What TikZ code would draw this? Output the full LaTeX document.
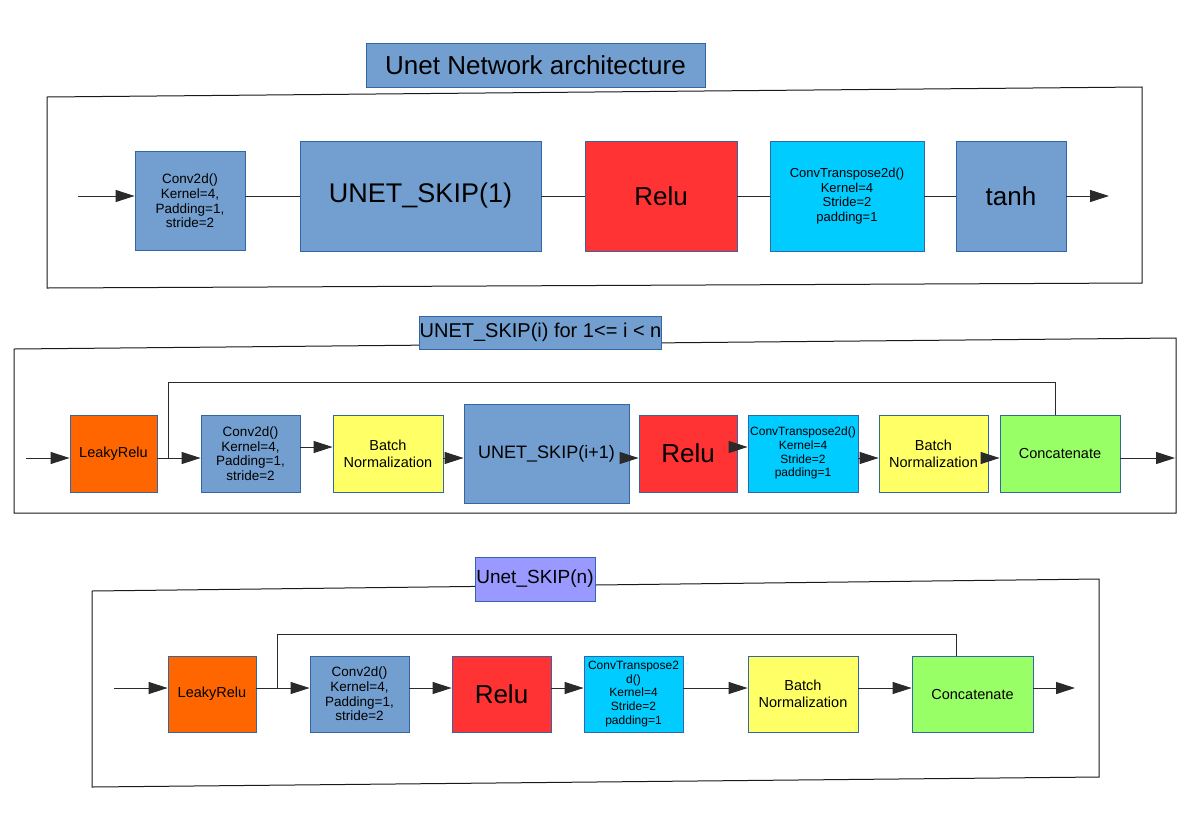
\documentclass[tikz,border=0pt]{standalone}
\usepackage{fontspec}
\setmainfont{Liberation Sans}
\usetikzlibrary{arrows.meta,calc}
\definecolor{lblue}{HTML}{729FCF}
\definecolor{bordc}{HTML}{3465A4}
\definecolor{lred}{HTML}{FF3333}
\definecolor{lcyan}{HTML}{00CCFF}
\definecolor{lorange}{HTML}{FF6600}
\definecolor{lyellow}{HTML}{FFFF66}
\definecolor{lgreen}{HTML}{99FF66}
\definecolor{lpurple}{HTML}{9999FF}
\definecolor{linec}{HTML}{2A2A2A}
\definecolor{framec}{HTML}{1A1A1A}
\begin{document}
\begin{tikzpicture}[x=1pt,y=-1pt,
  box/.style={draw=bordc, line width=0.8pt, inner sep=0pt, align=center, text=black},
  conn/.style={draw=linec, line width=1pt},
  arr/.style={conn, -{Triangle[length=19pt,width=12pt]}},
  framebox/.style={draw=framec, line width=1pt},
  fbig/.style={font=\fontsize{26}{30}\selectfont},
  fmid/.style={font=\fontsize{18}{22}\selectfont},
  fsmall/.style={font=\fontsize{13.5}{14.6}\selectfont},
  fsm/.style={font=\fontsize{14.5}{17}\selectfont},
  ftiny/.style={font=\fontsize{12}{13.8}\selectfont}]
\useasboundingbox[fill=white] (0,0) rectangle (1180,828);

% ---------- frames ----------
\draw[framebox] (47,97) -- (1142,87) -- (1142,283) -- (47,288) -- cycle;
\draw[framebox] (14,349) -- (1176,338) -- (1176,513) -- (14,513) -- cycle;
\draw[framebox] (92,591) -- (1099,579) -- (1099,777) -- (92,787) -- cycle;

% ---------- titles ----------
\node[box, fill=lblue, minimum width=339, minimum height=44, fbig] (t1) at (535.5,65) {Unet Network architecture};
\node[box, fill=lblue, minimum width=241, minimum height=33, font=\fontsize{20}{24}\selectfont] (t2) at (540.5,332.5) {UNET\_SKIP(i) for 1<= i < n};
\node[box, fill=lpurple, minimum width=120, minimum height=44, font=\fontsize{19}{23}\selectfont] (t3) at (535,579) {Unet\_SKIP(n)};

% ---------- row 1 ----------
\node[box, fill=lblue, minimum width=110, minimum height=99, fsmall] (conv1) at (190,201) {Conv2d()\\Kernel=4,\\Padding=1,\\stride=2};
\node[box, fill=lblue, minimum width=241, minimum height=110, font=\fontsize{27}{31}\selectfont] (skip1) at (420.5,196) {UNET\_SKIP(1)};
\node[box, fill=lred, minimum width=152, minimum height=110, fbig] (relu1) at (661,196) {Relu};
\node[box, fill=lcyan, minimum width=154, minimum height=110, font=\fontsize{13}{14.7}\selectfont] (ct1) at (847,196) {ConvTranspose2d()\\Kernel=4\\Stride=2\\padding=1};
\node[box, fill=lblue, minimum width=110, minimum height=110, fbig] (tanh1) at (1011,196) {tanh};
\coordinate (in1) at (78,196);
\coordinate (out1) at (1109,196);
\draw[arr] (in1) -- (in1 -| conv1.west);
\draw[conn] (conv1.east |- skip1.west) -- (skip1.west);
\draw[conn] (skip1.east) -- (relu1.west);
\draw[conn] (relu1.east) -- (ct1.west);
\draw[conn] (ct1.east) -- (tanh1.west);
\draw[arr] (tanh1.east) -- (out1);

% ---------- row 2 ----------
\node[box, fill=lorange, minimum width=87, minimum height=77, fsm] (leaky2) at (113.5,453.5) {LeakyRelu};
\node[box, fill=lblue, minimum width=99, minimum height=77, fsmall] (conv2) at (250.5,453.5) {Conv2d()\\Kernel=4,\\Padding=1,\\stride=2};
\node[box, fill=lyellow, minimum width=110, minimum height=77, fsm] (bn2) at (388,453.5) {Batch\\Normalization};
\node[box, fill=lblue, minimum width=165, minimum height=99, fmid] (skip2) at (546.5,453.5) {UNET\_SKIP(i+1)};
\node[box, fill=lred, minimum width=98, minimum height=77, fbig] (relu2) at (688,453.5) {Relu};
\node[box, fill=lcyan, minimum width=110, minimum height=77, ftiny] (ct2) at (803,453.5) {\raisebox{5pt}{\begin{tabular}{@{}c@{}}ConvTranspose2d()\\Kernel=4\\Stride=2\\padding=1\end{tabular}}};
\node[box, fill=lyellow, minimum width=109, minimum height=77, fsm] (bn2b) at (933.5,453.5) {Batch\\Normalization};
\node[box, fill=lgreen, minimum width=120, minimum height=77, fsm] (cat2) at (1060,453.5) {Concatenate};
\coordinate (in2) at (26,458);
\coordinate (out2) at (1175,458);
\coordinate (sk2) at (168,458);
\coordinate (skt2) at (1055,382);
\draw[arr] (in2) -- (in2 -| leaky2.west);
\draw[arr] (leaky2.east |- in2) -- (conv2.west |- in2);
\draw[arr] ($(conv2.east)+(0,-6.5)$) -- ($(bn2.west)+(0,-6.5)$);
\draw[arr] (bn2.east |- in2) -- (skip2.west |- in2);
\draw[arr] (skip2.east |- in2) -- (relu2.west |- in2);
\draw[arr] ($(relu2.east)+(0,-6.5)$) -- ($(ct2.west)+(0,-6.5)$);
\draw[arr] (ct2.east |- in2) -- (bn2b.west |- in2);
\draw[arr] (bn2b.east |- in2) -- (cat2.west |- in2);
\draw[arr] (cat2.east |- in2) -- (out2);
\draw[conn] (sk2) |- (skt2) -- (skt2 |- cat2.north);

% ---------- row 3 ----------
\node[box, fill=lorange, minimum width=88, minimum height=76, fsm] (leaky3) at (212,694) {LeakyRelu};
\node[box, fill=lblue, minimum width=99, minimum height=76, fsmall] (conv3) at (359.5,694) {Conv2d()\\Kernel=4,\\Padding=1,\\stride=2};
\node[box, fill=lred, minimum width=99, minimum height=76, fbig] (relu3) at (501.5,694) {Relu};
\node[box, fill=lcyan, minimum width=99, minimum height=76, ftiny] (ct3) at (633.5,694) {ConvTranspose2\\d()\\Kernel=4\\Stride=2\\padding=1};
\node[box, fill=lyellow, minimum width=110, minimum height=76, fsm] (bn3) at (803,694) {Batch\\Normalization};
\node[box, fill=lgreen, minimum width=121, minimum height=76, fsm] (cat3) at (972.5,694) {Concatenate};
\coordinate (in3) at (114,688);
\coordinate (out3) at (1075,688);
\coordinate (sk3) at (277,688);
\coordinate (skt3) at (956,634);
\draw[arr] (in3) -- (in3 -| leaky3.west);
\draw[arr] (leaky3.east |- in3) -- (conv3.west |- in3);
\draw[arr] (conv3.east |- in3) -- (relu3.west |- in3);
\draw[arr] (relu3.east |- in3) -- (ct3.west |- in3);
\draw[arr] (ct3.east |- in3) -- (bn3.west |- in3);
\draw[arr] (bn3.east |- in3) -- (cat3.west |- in3);
\draw[arr] (cat3.east |- in3) -- (out3);
\draw[conn] (sk3) |- (skt3) -- (skt3 |- cat3.north);
\end{tikzpicture}
\end{document}
